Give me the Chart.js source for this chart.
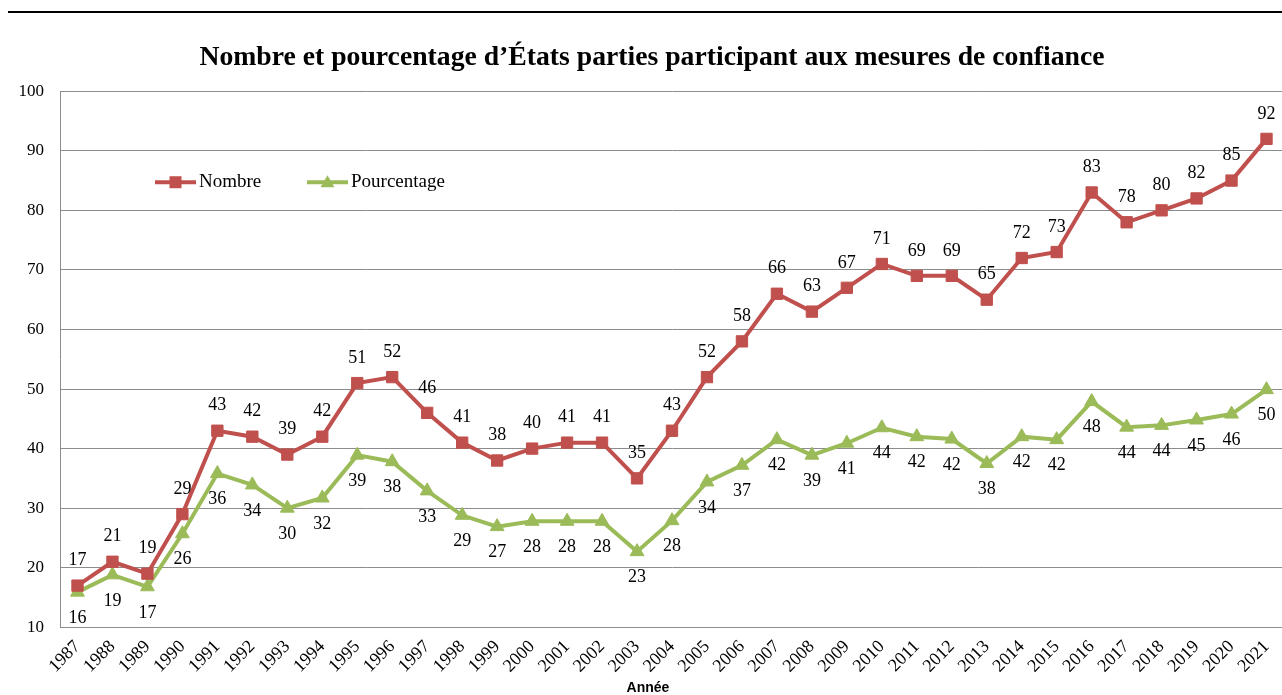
<!DOCTYPE html>
<html lang="fr">
<head>
    <meta charset="UTF-8">
    <title>Nombre et pourcentage d'États parties participant aux mesures de confiance</title>
    <script src="https://cdn.jsdelivr.net/npm/chart.js"></script>
    <style>
        html, body {
            margin: 0;
            padding: 0;
            background: #fff;
            overflow: hidden;
        }
        .topline {
            position: absolute;
            top: 11px;
            left: 8px;
            right: 0;
            height: 2px;
            background: #000;
        }
        .wrap {
            position: relative;
            width: 1284px;
            height: 695px;
        }
    </style>
</head>
<body>
    <div class="topline"></div>
    <div class="wrap">
        <canvas id="chart"></canvas>
    </div>

    <script>
        // Données
        const annees = ['1987', '1988', '1989', '1990', '1991', '1992', '1993', '1994', '1995', '1996',
            '1997', '1998', '1999', '2000', '2001', '2002', '2003', '2004', '2005', '2006',
            '2007', '2008', '2009', '2010', '2011', '2012', '2013', '2014', '2015', '2016',
            '2017', '2018', '2019', '2020', '2021'];
        const nombre = [17, 21, 19, 29, 43, 42, 39, 42, 51, 52,
            46, 41, 38, 40, 41, 41, 35, 43, 52, 58,
            66, 63, 67, 71, 69, 69, 65, 72, 73, 83,
            78, 80, 82, 85, 92];
        const pourcentage = [15.9, 18.8, 16.8, 25.7, 35.8, 33.9, 30, 31.7, 38.9, 37.8,
            32.9, 28.8, 26.9, 27.8, 27.8, 27.8, 22.7, 27.9, 34.4, 37.2,
            41.5, 38.9, 40.9, 43.5, 42, 41.6, 37.5, 42, 41.5, 47.9,
            43.6, 43.9, 44.8, 45.8, 49.9];
        const yTicks = [10, 20, 30, 40, 50, 60, 70, 80, 90, 100];

        const ROUGE = '#C0504D';
        const VERT = '#9BBB59';
        const SERIF = "'Liberation Serif', 'Times New Roman', serif";

        // Étiquettes de valeurs (au-dessus pour Nombre, en dessous pour Pourcentage)
        const etiquettes = {
            id: 'etiquettes',
            afterDatasetsDraw(chart) {
                const ctx = chart.ctx;
                ctx.save();
                ctx.font = '18px ' + SERIF;
                ctx.fillStyle = '#000';
                ctx.textAlign = 'center';
                ctx.textBaseline = 'middle';
                chart.data.datasets.forEach((ds, i) => {
                    const meta = chart.getDatasetMeta(i);
                    const dy = i === 0 ? -25 : 26;
                    meta.data.forEach((pt, j) => {
                        ctx.fillText(String(Math.round(ds.data[j])), pt.x, pt.y + dy);
                    });
                });
                ctx.restore();
            }
        };

        // Légende placée dans la zone du graphique + titre de l'axe des années
        const legendeInterne = {
            id: 'legendeInterne',
            afterDraw(chart, args, opts) {
                const ctx = chart.ctx;
                const area = chart.chartArea;
                let x = area.left + opts.x;
                const y = area.top + opts.y;
                ctx.save();
                ctx.font = '19px ' + SERIF;
                ctx.textBaseline = 'middle';
                chart.data.datasets.forEach((ds, i) => {
                    ctx.strokeStyle = ds.borderColor;
                    ctx.lineWidth = 4;
                    ctx.beginPath();
                    ctx.moveTo(x, y);
                    ctx.lineTo(x + 41, y);
                    ctx.stroke();
                    ctx.fillStyle = ds.borderColor;
                    const cx = x + 20.5;
                    if (ds.pointStyle === 'rect') {
                        ctx.fillRect(cx - 6, y - 6, 12, 12);
                    } else {
                        ctx.beginPath();
                        ctx.moveTo(cx, y - 7);
                        ctx.lineTo(cx + 7, y + 5);
                        ctx.lineTo(cx - 7, y + 5);
                        ctx.closePath();
                        ctx.fill();
                    }
                    ctx.fillStyle = '#000';
                    ctx.fillText(ds.label, x + 44, y);
                    x += opts.gap;
                });

                // titre de l'axe horizontal
                ctx.font = "bold 14px 'Liberation Sans', Arial, sans-serif";
                ctx.textAlign = 'center';
                ctx.fillText(opts.axisTitle, chart.width / 2 + 6, chart.height - 7);
                ctx.restore();
            }
        };

        new Chart(document.getElementById('chart'), {
            type: 'line',
            data: {
                labels: annees,
                datasets: [{
                    label: 'Nombre',
                    data: nombre,
                    borderColor: ROUGE,
                    backgroundColor: ROUGE,
                    borderWidth: 4,
                    pointStyle: 'rect',
                    pointRadius: 8,
                    pointBorderWidth: 1,
                    tension: 0
                }, {
                    label: 'Pourcentage',
                    data: pourcentage,
                    borderColor: VERT,
                    backgroundColor: VERT,
                    borderWidth: 4,
                    pointStyle: 'triangle',
                    pointRadius: 8,
                    pointBorderWidth: 1,
                    tension: 0
                }]
            },
            options: {
                responsive: true,
                maintainAspectRatio: false,
                animation: false,
                layout: {
                    autoPadding: false,
                    padding: { left: 20, right: 0, top: 0, bottom: 9 }
                },
                plugins: {
                    legend: { display: false },
                    tooltip: { enabled: false },
                    title: {
                        display: true,
                        text: 'Nombre et pourcentage d\u2019États parties participant aux mesures de confiance',
                        color: '#000',
                        font: { family: SERIF, size: 27.7, weight: 'bold', lineHeight: 1.2 },
                        padding: { top: 41, bottom: 17 }
                    },
                    legendeInterne: { x: 95, y: 91, gap: 152, axisTitle: 'Année' }
                },
                scales: {
                    x: {
                        offset: true,
                        grid: { display: false, drawTicks: false },
                        border: { color: '#8c8c8c' },
                        afterFit(axis) {
                            // pas de marge latérale pour les étiquettes inclinées
                            axis.paddingLeft = 0;
                            axis.paddingRight = 0;
                        },
                        ticks: {
                            color: '#000',
                            font: { family: SERIF, size: 18 },
                            minRotation: 45,
                            maxRotation: 45,
                            autoSkip: false,
                            padding: 9
                        }
                    },
                    y: {
                        min: 10,
                        max: 100,
                        afterBuildTicks(axis) {
                            axis.ticks = yTicks.map(v => ({ value: v }));
                        },
                        afterFit(axis) {
                            axis.width = 40;
                        },
                        grid: { color: '#8c8c8c', lineWidth: 1, drawTicks: false },
                        border: { color: '#8c8c8c' },
                        ticks: {
                            color: '#000',
                            font: { family: SERIF, size: 17 },
                            padding: 16
                        }
                    }
                }
            },
            plugins: [etiquettes, legendeInterne]
        });
    </script>
</body>
</html>
